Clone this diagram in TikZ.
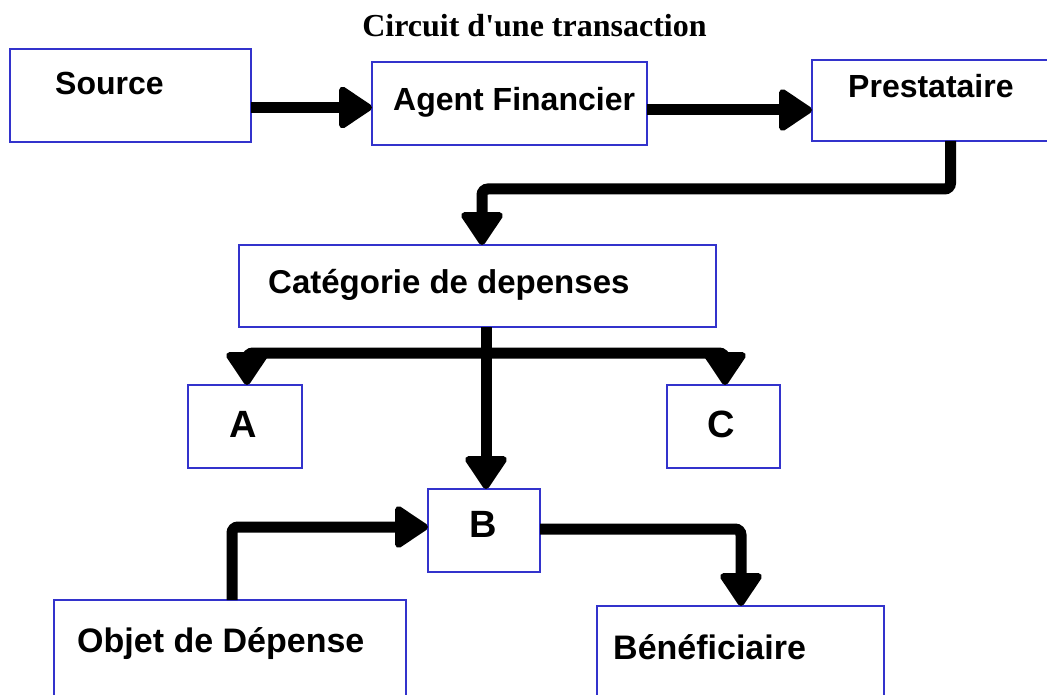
\documentclass[tikz,border=0pt]{standalone}
\usepackage{fontspec}
\setmainfont{Liberation Serif}
\newfontfamily\titlefont{Liberation Serif}[Ligatures=TeXOff]
\newfontfamily\labfont{Liberation Sans}
\usetikzlibrary{arrows.meta}
\definecolor{boxblue}{RGB}{51,51,204}
\begin{document}
\begin{tikzpicture}[x=1pt,y=-1pt,
  box/.style 2 args={draw=boxblue,line width=2.5pt,inner sep=0pt,outer sep=0pt,
    minimum width=#1,minimum height=#2},
  lab/.style={font=\labfont\bfseries\fontsize{32}{38}\selectfont,inner sep=0pt,anchor=base west},
  labbig/.style={font=\labfont\bfseries\fontsize{38}{44}\selectfont,inner sep=0pt,anchor=base},
  labbot/.style={font=\labfont\bfseries\fontsize{34}{40}\selectfont,inner sep=0pt,anchor=base west},
  ttl/.style={font=\titlefont\bfseries\fontsize{32}{38}\selectfont,inner sep=0pt,anchor=base},
  arr/.style={line width=11pt,rounded corners=6pt,
    -{Triangle[round,length=36pt,width=46pt,line width=7pt]}}]
\clip (0,0) rectangle (1047,695);
% title
\node[ttl] (title) at (534.5,37) {Circuit d'une transaction};
% boxes
\node[box={241pt}{93pt}] (src) at (130.5,95.5) {};
\node[box={275pt}{83pt}] (agent) at (509.5,103.5) {};
\node[box={248pt}{81pt}] (prest) at (936,100.5) {};
\node[box={477pt}{82pt}] (cat) at (477.5,286) {};
\node[box={114pt}{83pt}] (A) at (245,426.5) {};
\node[box={113pt}{83pt}] (C) at (723.5,426.5) {};
\node[box={112pt}{83pt}] (B) at (484,530.5) {};
\node[box={352pt}{104pt}] (obj) at (230,652) {};
\node[box={287pt}{98pt}] (ben) at (740.5,655) {};
% labels
\node[lab] (srct) at (55,95) {Source};
\node[lab] (agentt) at (393,111) {Agent Financier};
\node[lab] (prestt) at (848,98) {Prestataire};
\node[lab,font=\labfont\bfseries\fontsize{33}{39}\selectfont] (catt) at (268,293) {Catégorie de depenses};
\node[labbig] (At) at (243,437) {A};
\node[labbig] (Ct) at (721,437) {C};
\node[labbig] (Bt) at (483,537) {B};
\node[labbot] (objt) at (77,652) {Objet de Dépense};
\node[labbot] (bent) at (613,659) {Bénéficiaire};
% helper coordinates
\coordinate (s1) at ([yshift=-12pt]src.east);
\coordinate (a1) at ([yshift=-6.5pt]agent.east);
\coordinate (p1) at ([xshift=14.5pt]prest.south);
\coordinate (k1) at (0,189);
\coordinate (c1) at ([xshift=4.5pt]cat.north);
\coordinate (c2) at ([xshift=8.5pt]cat.south);
\coordinate (k2) at (0,353);
\coordinate (aTop) at ([xshift=2pt]A.north);
\coordinate (cTop) at ([xshift=1.5pt]C.north);
\coordinate (o1) at ([xshift=2pt]obj.north);
\coordinate (b1) at ([yshift=3.5pt]B.west);
\coordinate (b2) at ([yshift=1.5pt]B.east);
\coordinate (bn) at ([xshift=0.5pt]ben.north);
% connectors
\draw[arr] (s1) -- (s1 -| agent.west);
\draw[arr] (a1) -- (a1 -| prest.west);
\draw[arr] (p1) -- (p1 |- k1) -| (c1);
\draw[arr] (c2) -- (c2 |- B.north);
\draw[arr] (c2 |- k2) -| (aTop);
\draw[arr] (c2 |- k2) -| (cTop);
\draw[arr] (o1) |- (b1);
\draw[arr] (b2) -| (bn);
\end{tikzpicture}
\end{document}
